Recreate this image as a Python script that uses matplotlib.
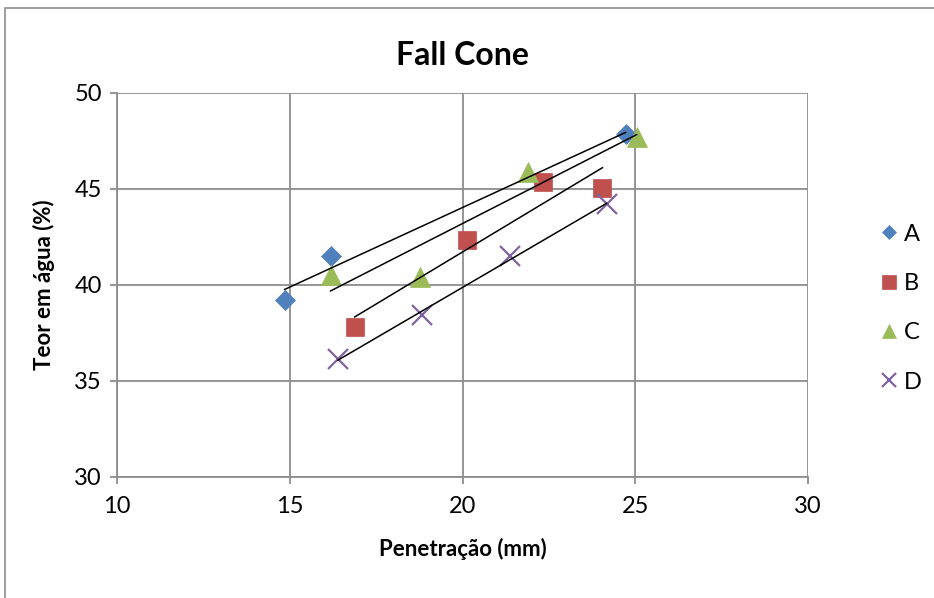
import numpy as np
import matplotlib.pyplot as plt
from matplotlib.patches import Rectangle

plt.rcParams['font.family'] = ['Lato', 'DejaVu Sans']

# penetration (mm) and water content (%) for each test series
pen_a = [14.85, 16.18, 24.72]
wat_a = [39.22, 41.50, 47.86]
pen_b = [16.88, 20.13, 22.34, 24.05]
wat_b = [37.81, 42.34, 45.36, 45.05]
pen_c = [16.18, 18.77, 21.90, 25.04]
wat_c = [40.52, 40.42, 45.90, 47.70]
pen_d = [16.39, 18.82, 21.38, 24.17]
wat_d = [36.15, 38.44, 41.50, 44.20]

series = [
    ('A', pen_a, wat_a, 'D', '#4F81BD', 10.2),
    ('B', pen_b, wat_b, 's', '#C0504D', 13.5),
    ('C', pen_c, wat_c, '^', '#9BBB59', 14.5),
    ('D', pen_d, wat_d, 'x', '#8064A2', 14.0),
]

fig = plt.figure(figsize=(9.34, 5.98), dpi=100)
fig.patches.append(Rectangle((5 / 934, -0.1), 1.2, (598 - 8) / 598 + 0.1,
                             transform=fig.transFigure, fill=False,
                             edgecolor='#8c8c8c', linewidth=1.2))
ax = fig.add_axes([117 / 934, 121 / 598, 691 / 934, 384 / 598])

for name, x, y, mk, col, ms in series:
    ax.plot(x, y, linestyle='none', marker=mk, color=col, markersize=ms,
            markeredgewidth=1.6 if mk == 'x' else 0.5, label=name,
            zorder=3)
    # linear trend line over the range of the series
    k, b = np.polyfit(x, y, 1)
    xs = np.array([min(x), max(x)])
    ax.plot(xs, k * xs + b, color='black', linewidth=1.1, zorder=4)

ax.set_xlim(10, 30)
ax.set_ylim(30, 50)
ax.set_xticks([10, 15, 20, 25, 30])
ax.set_yticks([30, 35, 40, 45, 50])
ax.grid(True, color='#8e8e8e', linewidth=1.3)
ax.set_axisbelow(True)
for side in ['top', 'right']:
    ax.spines[side].set_visible(False)
for side in ['left', 'bottom']:
    ax.spines[side].set_color('#8e8e8e')
    ax.spines[side].set_linewidth(1.3)
ax.tick_params(axis='both', labelsize=17, color='#8e8e8e', width=1.3,
               length=5, pad=6)
ax.tick_params(axis='x', pad=9)

ax.set_title('Fall Cone', fontsize=23, fontweight='bold', pad=20)
ax.set_xlabel('Penetração (mm)', fontsize=16, fontweight='bold', labelpad=15)
ax.set_ylabel('Teor em água (%)', fontsize=16, fontweight='bold', labelpad=14)

ax.legend(loc='center left', bbox_to_anchor=(1.075, 0.44), frameon=False,
          fontsize=17, markerscale=0.7, handlelength=0.7, handletextpad=0.25,
          labelspacing=1.2)

fig.savefig('out.png', dpi=100)
